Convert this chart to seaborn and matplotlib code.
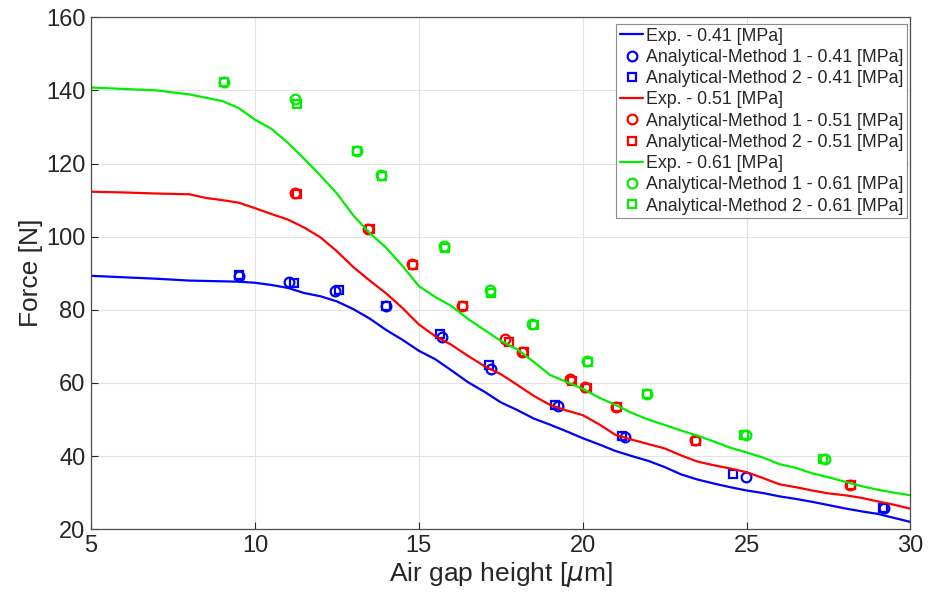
import seaborn as sns
import matplotlib.pyplot as plt

exp_x = [5, 6, 7, 8, 8.5, 9, 9.5, 10, 10.5, 11, 11.5, 12, 12.5, 13, 13.5, 14, 14.5, 15,
         15.5, 16, 16.5, 17, 17.5, 18, 18.5, 19, 19.5, 20, 20.5, 21, 21.5, 22, 22.5, 23,
         23.5, 24, 24.5, 25, 25.5, 26, 26.5, 27, 27.5, 28, 28.5, 29, 29.5, 30]
exp_041 = [89.3, 88.9, 88.5, 88.0, 87.9, 87.8, 87.7, 87.4, 86.8, 86.0, 84.6, 83.7, 82.3, 80.2,
           77.6, 74.5, 71.8, 68.8, 66.5, 63.4, 60.2, 57.6, 54.7, 52.6, 50.3, 48.6, 46.8, 44.9,
           43.2, 41.4, 40.0, 38.7, 37.0, 35.0, 33.6, 32.5, 31.5, 30.6, 29.9, 29.0, 28.3, 27.5,
           26.6, 25.7, 24.9, 24.2, 23.1, 22.0]
exp_051 = [112.3, 112.1, 111.8, 111.6, 110.6, 110.0, 109.3, 107.8, 106.2, 104.7, 102.5, 99.8,
           96.0, 91.7, 88.0, 84.5, 80.5, 76.0, 72.8, 70.4, 67.4, 64.6, 62.4, 59.5, 56.5, 54.0,
           52.5, 51.2, 48.7, 45.8, 44.5, 43.3, 42.1, 40.2, 38.5, 37.5, 36.6, 35.6, 34.0, 32.3,
           31.5, 30.6, 29.8, 29.3, 28.6, 27.6, 26.7, 25.6]
exp_061 = [140.8, 140.4, 140.0, 138.9, 138.0, 137.1, 135.2, 132.0, 129.5, 125.7, 121.3, 116.7,
           111.8, 105.8, 101.0, 97.0, 92.0, 86.5, 83.5, 81.0, 77.5, 74.5, 71.5, 69.2, 65.8,
           62.2, 60.3, 58.4, 56.0, 54.0, 51.8, 50.0, 48.5, 47.0, 45.6, 44.0, 42.3, 41.0, 39.6,
           37.8, 36.8, 35.3, 34.2, 33.0, 31.8, 30.8, 30.0, 29.3]

# analytical points, method 1 (circles) and method 2 (squares)
m1_041_x = [9.5, 11.05, 12.45, 14.0, 15.7, 17.2, 19.25, 21.3, 24.97, 29.2]
m1_041_y = [89.3, 87.6, 85.2, 81.0, 72.6, 63.9, 53.7, 45.2, 34.4, 25.8]
m2_041_x = [9.5, 11.2, 12.55, 14.0, 15.65, 17.15, 19.15, 21.2, 24.6, 29.15]
m2_041_y = [89.4, 87.4, 85.3, 81.0, 73.4, 64.8, 54.0, 45.5, 35.2, 25.7]

m1_051_x = [11.22, 13.45, 14.78, 16.33, 17.62, 18.15, 19.6, 20.07, 21.02, 23.42, 28.15]
m1_051_y = [111.9, 102.1, 92.4, 81.1, 71.9, 68.6, 61.0, 59.0, 53.5, 44.4, 32.1]
m2_051_x = [11.28, 13.5, 14.82, 16.36, 17.74, 18.2, 19.68, 20.14, 21.06, 23.46, 28.2]
m2_051_y = [111.7, 102.0, 92.2, 81.0, 71.1, 68.4, 60.6, 58.5, 53.3, 44.2, 32.0]

m1_061_x = [9.05, 11.22, 13.1, 13.85, 15.78, 17.18, 18.45, 20.13, 21.95, 24.98, 27.38]
m1_061_y = [142.3, 137.7, 123.5, 116.8, 97.5, 85.4, 76.1, 65.9, 57.0, 45.8, 39.2]
m2_061_x = [9.05, 11.28, 13.1, 13.88, 15.8, 17.2, 18.5, 20.17, 21.97, 24.92, 27.32]
m2_061_y = [142.3, 136.4, 123.5, 116.6, 96.8, 84.5, 75.9, 65.6, 57.0, 45.9, 39.3]

pressures = ['0.41', '0.51', '0.61']
colors = ['#0000ff', '#ff0000', '#00ee00']

sns.set_theme(style='whitegrid')
plt.rcParams['font.family'] = ['Liberation Sans', 'DejaVu Sans']
plt.rcParams['text.color'] = '#262626'
plt.rcParams['axes.labelcolor'] = '#262626'

fig = plt.figure(figsize=(9.3, 5.96), dpi=100)
ax = fig.add_axes([0.098, 0.112, 0.881, 0.859])

groups = [
    (exp_041, m1_041_x, m1_041_y, m2_041_x, m2_041_y),
    (exp_051, m1_051_x, m1_051_y, m2_051_x, m2_051_y),
    (exp_061, m1_061_x, m1_061_y, m2_061_x, m2_061_y),
]

for p, c, (ey, x1, y1, x2, y2) in zip(pressures, colors, groups):
    sns.lineplot(x=exp_x, y=ey, ax=ax, color=c, linewidth=1.6,
                 estimator=None, sort=False, label=f'Exp. - {p} [MPa]')
    sns.lineplot(x=x1, y=y1, ax=ax, color=c, linestyle='', marker='o',
                 markersize=7, markerfacecolor='none', markeredgecolor=c,
                 markeredgewidth=1.6, estimator=None, sort=False,
                 label=f'Analytical-Method 1 - {p} [MPa]')
    sns.lineplot(x=x2, y=y2, ax=ax, color=c, linestyle='', marker='s',
                 markersize=5.8, markerfacecolor='none', markeredgecolor=c,
                 markeredgewidth=1.6, estimator=None, sort=False,
                 label=f'Analytical-Method 2 - {p} [MPa]')

ax.set_xlim(5, 30)
ax.set_ylim(20, 160)
ax.set_xticks([5, 10, 15, 20, 25, 30])
ax.set_yticks(range(20, 161, 20))
ax.tick_params(direction='in', length=5, width=0.8, colors='#262626',
               labelsize=17, pad=4, top=False, right=False, bottom=True, left=True)
ax.grid(True, color='#e3e3e3', linewidth=0.8)
for s in ax.spines.values():
    s.set_visible(True)
    s.set_color('#4d4d4d')
    s.set_linewidth(0.9)

ax.set_xlabel(r'Air gap height [$\mu$m]', fontsize=19, labelpad=2)
ax.set_ylabel('Force [N]', fontsize=19, labelpad=2)

leg = ax.legend(loc='upper right', bbox_to_anchor=(906.7 / 930, 1 - 24 / 596),
                bbox_transform=fig.transFigure, borderaxespad=0, fontsize=12.8,
                frameon=True, fancybox=False, framealpha=1, edgecolor='#8c8c8c',
                handlelength=1.3, handletextpad=0.15, labelspacing=0.24,
                borderpad=0.2)
leg.get_frame().set_linewidth(0.8)

fig.savefig('out.png', dpi=100)
